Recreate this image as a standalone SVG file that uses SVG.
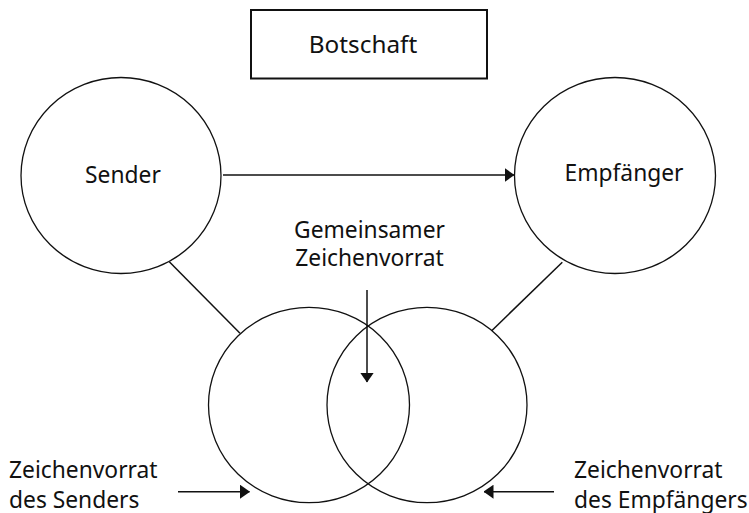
<svg xmlns="http://www.w3.org/2000/svg" width="749" height="513" viewBox="0 0 749 513">
<style>
text{font-family:"Noto Sans","Open Sans","DejaVu Sans",sans-serif;font-size:22.8px;fill:#111}
.c{text-anchor:middle}
.big{font-size:24.3px}
.shape{fill:none;stroke:#111;stroke-width:1.3}
.conn{fill:none;stroke:#111;stroke-width:1.5}
</style>
<defs>
<marker id="arr" markerWidth="10" markerHeight="14" refX="9.5" refY="7" orient="auto" markerUnits="userSpaceOnUse">
<path d="M0,0 L10,7 L0,14 Z" fill="#111"/>
</marker>
</defs>
<rect width="749" height="513" fill="#fff"/>
<g id="botschaft">
<rect x="251" y="10" width="236" height="68.5" fill="none" stroke="#111" stroke-width="2"/>
<text class="c big" x="363" y="53">Botschaft</text>
</g>
<g id="sender">
<ellipse class="shape" cx="121" cy="175.5" rx="100" ry="98"/>
<text class="c" x="123" y="183">Sender</text>
</g>
<g id="empfaenger">
<ellipse class="shape" cx="615" cy="175.5" rx="100.5" ry="98"/>
<text class="c" x="624" y="181">Empfänger</text>
</g>
<g id="zeichenvorrat-sender">
<ellipse class="shape" cx="309" cy="405" rx="100.5" ry="97.7"/>
</g>
<g id="zeichenvorrat-empfaenger">
<ellipse class="shape" cx="427" cy="405" rx="100" ry="97.7"/>
</g>
<g id="label-gemeinsam">
<text class="c" x="369.5" y="238">Gemeinsamer</text>
<text class="c" x="369.5" y="266">Zeichenvorrat</text>
</g>
<g id="label-sender">
<text x="9" y="478">Zeichenvorrat</text>
<text x="9" y="507.5">des Senders</text>
</g>
<g id="label-empfaenger">
<text x="574" y="478">Zeichenvorrat</text>
<text x="574" y="507.5">des Empfängers</text>
</g>
<g id="connectors">
<line class="conn" x1="223" y1="175" x2="514" y2="175" marker-end="url(#arr)"/>
<line class="conn" x1="169.3" y1="261.7" x2="240" y2="333.3"/>
<line class="conn" x1="562.3" y1="262.3" x2="491.7" y2="330.7"/>
<line class="conn" x1="367" y1="290" x2="367" y2="382" marker-end="url(#arr)"/>
<line class="conn" x1="178" y1="491.7" x2="249.5" y2="491.7" marker-end="url(#arr)"/>
<line class="conn" x1="554" y1="491.7" x2="484" y2="491.7" marker-end="url(#arr)"/>
</g>
</svg>
